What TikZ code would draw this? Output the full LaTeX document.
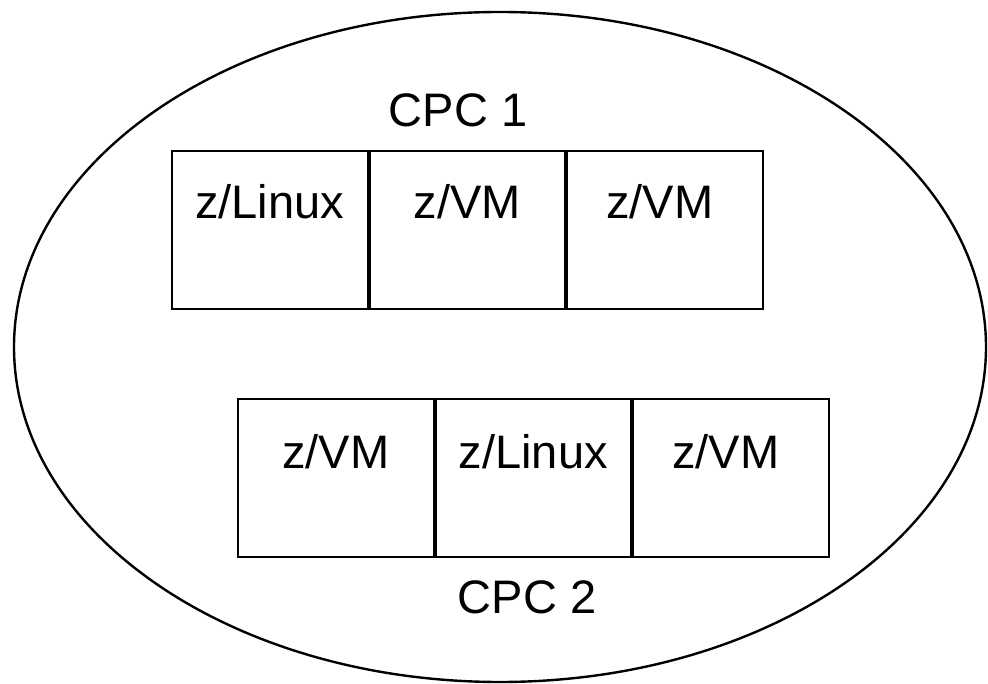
\documentclass[tikz,border=0pt]{standalone}
\usepackage{fontspec}
\setmainfont{Liberation Sans}
\usetikzlibrary{positioning}

\tikzset{
  lpar/.style={draw, line width=2pt, rectangle, inner sep=0pt,
    minimum width=195.5pt, minimum height=158pt},
  lbl/.style={font=\fontsize{47}{56}\selectfont, inner sep=0pt, anchor=base}
}

\begin{document}
\begin{tikzpicture}[x=1pt, y=-1pt]

\useasboundingbox (0,0) rectangle (988,684);

% --- Outer ellipse ---
\draw[line width=2.4pt] (500,347) ellipse [x radius=486, y radius=335];

% --- CPC 1 partitions ---
\node[lpar, anchor=north west] (a1) at (171,150) {};
\node[lpar, right=0pt of a1] (a2) {};
\node[lpar, right=0pt of a2] (a3) {};

\node[lbl] (ta1) at ([yshift=-69pt]a1.north) {z/Linux};
\node[lbl] (ta2) at ([yshift=-69pt]a2.north) {z/VM};
\node[lbl] (ta3) at ([xshift=-5pt, yshift=-69pt]a3.north) {z/VM};

\node[lbl] (cpc1) at (458,127) {CPC 1};

% --- CPC 2 partitions ---
\node[lpar, anchor=north west] (b1) at (237,398) {};
\node[lpar, right=0pt of b1] (b2) {};
\node[lpar, right=0pt of b2] (b3) {};

\node[lbl] (tb1) at ([yshift=-70pt]b1.north) {z/VM};
\node[lbl] (tb2) at ([yshift=-70pt]b2.north) {z/Linux};
\node[lbl] (tb3) at ([xshift=-5pt, yshift=-70pt]b3.north) {z/VM};

\node[lbl] (cpc2) at (527,613) {CPC 2};

\end{tikzpicture}
\end{document}
